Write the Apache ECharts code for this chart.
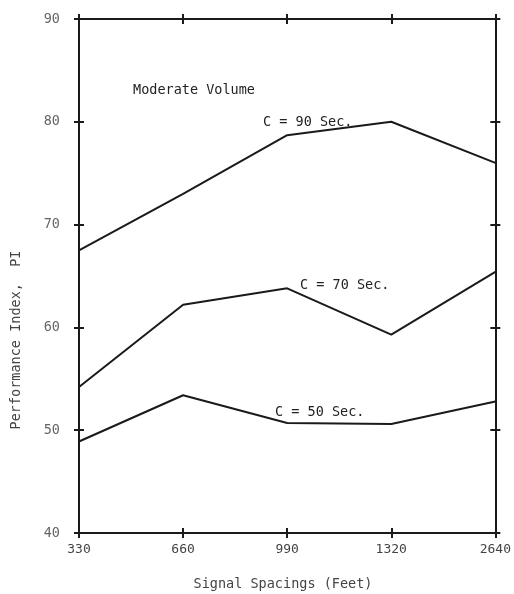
<!DOCTYPE html>
<html>
<head>
<meta charset="utf-8">
<script src="https://cdn.jsdelivr.net/npm/echarts@6/dist/echarts.min.js"></script>
<style>
  html, body { margin: 0; padding: 0; background: #fff; }
  #chart { width: 514px; height: 594px; }
</style>
</head>
<body>
<div id="chart"></div>
<script>
// Signal spacing categories (feet)
const spacings = ['330', '660', '990', '1320', '2640'];

// Performance index by cycle length
const pi90 = [67.5, 73.0, 78.7, 80.0, 76.0];
const pi70 = [54.2, 62.2, 63.8, 59.3, 65.4];
const pi50 = [48.9, 53.4, 50.7, 50.6, 52.8];

const seriesNames = ['C = 90 Sec.', 'C = 70 Sec.', 'C = 50 Sec.'];
const panelTitle = 'Moderate Volume';
const yMin = 40, yMax = 90, yStep = 10;

const FONT = '"DejaVu Sans Mono", "Liberation Mono", monospace';
const INK = '#1a1a1a';

const chart = echarts.init(document.getElementById('chart'));

// Each frame side is drawn by two axes: one with outward ticks, one with
// inward ticks, so the ticks cross the frame line.
function xAx(position, inside, showLabel) {
  return {
    type: 'category', data: spacings, boundaryGap: false, position: position,
    axisLine: { show: true, lineStyle: { color: INK, width: 2 } },
    axisTick: { show: true, inside: inside, length: 5, lineStyle: { color: INK, width: 2 } },
    axisLabel: { show: showLabel, color: '#444', fontFamily: FONT, fontSize: 13, margin: 10 },
    splitLine: { show: false }
  };
}
function yAx(position, inside, showLabel) {
  return {
    type: 'value', min: yMin, max: yMax, interval: yStep, position: position,
    axisLine: { show: true, lineStyle: { color: INK, width: 2 } },
    axisTick: { show: true, inside: inside, length: 5, lineStyle: { color: INK, width: 2 } },
    axisLabel: { show: showLabel, color: '#666', fontFamily: FONT, fontSize: 13.5, margin: 19 },
    splitLine: { show: false }
  };
}

function line(name, data) {
  return {
    name: name, type: 'line', data: data, xAxisIndex: 0, yAxisIndex: 0,
    symbol: 'none', lineStyle: { color: INK, width: 2 }, silent: true, animation: false
  };
}

const textStyle = (t) => ({ text: t, font: '13.5px ' + FONT, fill: '#222', textVerticalAlign: 'middle' });

chart.setOption({
  animation: false,
  backgroundColor: '#fff',
  grid: { left: 79, right: 18, top: 19, bottom: 61 },
  xAxis: [xAx('bottom', false, true), xAx('bottom', true, false), xAx('top', false, false), xAx('top', true, false)],
  yAxis: [yAx('left', false, true), yAx('left', true, false), yAx('right', false, false), yAx('right', true, false)],
  series: [line(seriesNames[0], pi90), line(seriesNames[1], pi70), line(seriesNames[2], pi50)],
  graphic: [
    { type: 'text', left: 133, top: 83, style: textStyle(panelTitle) },
    { type: 'text', left: 263, top: 115, style: textStyle(seriesNames[0]) },
    { type: 'text', left: 300, top: 278, style: textStyle(seriesNames[1]) },
    { type: 'text', left: 275, top: 405, style: textStyle(seriesNames[2]) },
    {
      type: 'text', x: 16, y: 340, rotation: Math.PI / 2,
      style: { text: 'Performance Index,  PI', font: '13.5px ' + FONT, fill: '#444',
               textAlign: 'center', textVerticalAlign: 'middle' }
    },
    {
      type: 'text', x: 283, y: 584,
      style: { text: 'Signal Spacings (Feet)', font: '13.5px ' + FONT, fill: '#444',
               textAlign: 'center', textVerticalAlign: 'middle' }
    }
  ]
});
</script>
</body>
</html>
